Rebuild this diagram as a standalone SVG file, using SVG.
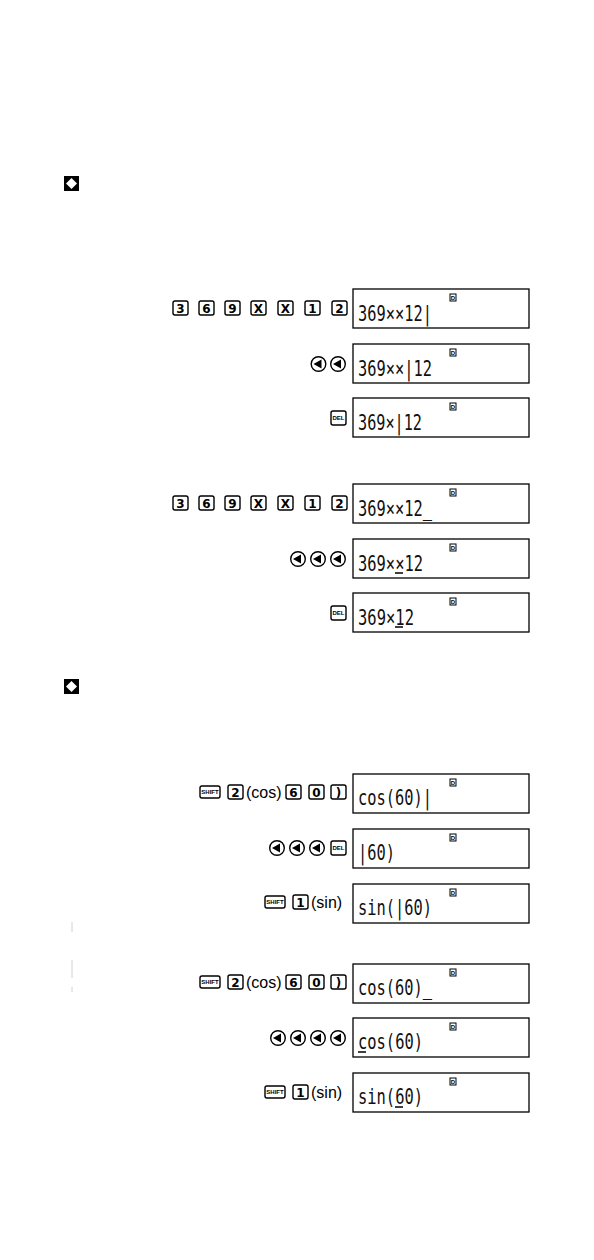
<svg xmlns="http://www.w3.org/2000/svg" width="594" height="1260" viewBox="0 0 594 1260">
<style>
.key{fill:#fff;stroke:#000;stroke-width:1.4}
.kt{font-family:"DejaVu Sans","Liberation Sans",sans-serif;font-weight:bold;font-size:12px;text-anchor:middle;fill:#000}
.kt2{font-family:"Liberation Sans",sans-serif;font-weight:bold;font-size:6px;text-anchor:middle;fill:#000}
.lab{font-family:"Liberation Sans",Arial,sans-serif;font-size:16px;fill:#000}
.box{fill:#fff;stroke:#000;stroke-width:1.3}
.lcd{font-family:"DejaVu Sans Mono","Liberation Mono",monospace;font-size:22px;fill:#111}
.ind{font-family:"Liberation Sans",sans-serif;font-weight:bold;font-size:6px;text-anchor:middle;fill:#000}
.cur{stroke:#000;stroke-width:1.5}
.arr circle{fill:#fff;stroke:#000;stroke-width:1.4}
.arr path{fill:#000}
</style>
<defs>
<g id="arrow" class="arr"><circle cx="0" cy="0" r="7.3"/><path d="M-5,0 L3,-4.5 L3,4.5 Z"/></g>
<g id="diamond"><rect x="0" y="0" width="15" height="15" fill="#000"/><path d="M7.5,2 L13,7.5 L7.5,13 L2,7.5 Z" fill="#fff"/></g>
<g id="ind"><rect x="-3" y="-4" width="6" height="7" fill="none" stroke="#000" stroke-width="1"/><text x="0" y="2" class="ind">D</text></g>
</defs>

<g id="diamond1"><use href="#diamond" x="64" y="176"/></g>
<g id="diamond2"><use href="#diamond" x="64" y="679"/></g>

<g id="marks" stroke="#d0d0d0" stroke-width="1">
<line x1="72" y1="922" x2="72" y2="932"/>
<line x1="72" y1="960" x2="72" y2="978"/>
<line x1="72" y1="987" x2="72" y2="992"/>
</g>

<!-- Section 1 -->
<g id="s1r1-keys">
<rect class="key" x="173" y="301" width="15" height="14" rx="2"/><text class="kt" x="180.5" y="312.5">3</text>
<rect class="key" x="199" y="301" width="15" height="14" rx="2"/><text class="kt" x="206.5" y="312.5">6</text>
<rect class="key" x="225" y="301" width="15" height="14" rx="2"/><text class="kt" x="232.5" y="312.5">9</text>
<rect class="key" x="251" y="301" width="15" height="14" rx="2"/><text class="kt" x="258.5" y="312.5">X</text>
<rect class="key" x="278" y="301" width="15" height="14" rx="2"/><text class="kt" x="285.5" y="312.5">X</text>
<rect class="key" x="305" y="301" width="15" height="14" rx="2"/><text class="kt" x="312.5" y="312.5">1</text>
<rect class="key" x="332" y="301" width="15" height="14" rx="2"/><text class="kt" x="339.5" y="312.5">2</text>
</g>
<g id="s1d1"><rect class="box" x="353" y="289" width="176" height="39"/><use href="#ind" x="453" y="298"/><text class="lcd" x="358" y="321" textLength="74" lengthAdjust="spacingAndGlyphs">369××12|</text></g>

<g id="s1r2-keys"><use href="#arrow" x="318.5" y="364"/><use href="#arrow" x="338" y="364"/></g>
<g id="s1d2"><rect class="box" x="353" y="344" width="176" height="39"/><use href="#ind" x="453" y="353"/><text class="lcd" x="358" y="376" textLength="74" lengthAdjust="spacingAndGlyphs">369××|12</text></g>

<g id="s1r3-keys"><rect class="key" x="331" y="411" width="15" height="14" rx="2"/><text class="kt2" x="338.5" y="420">DEL</text></g>
<g id="s1d3"><rect class="box" x="353" y="398" width="176" height="39"/><use href="#ind" x="453" y="407"/><text class="lcd" x="358" y="430" textLength="64" lengthAdjust="spacingAndGlyphs">369×|12</text></g>

<!-- Section 2 -->
<g id="s2r1-keys">
<rect class="key" x="173" y="496" width="15" height="14" rx="2"/><text class="kt" x="180.5" y="507.5">3</text>
<rect class="key" x="199" y="496" width="15" height="14" rx="2"/><text class="kt" x="206.5" y="507.5">6</text>
<rect class="key" x="225" y="496" width="15" height="14" rx="2"/><text class="kt" x="232.5" y="507.5">9</text>
<rect class="key" x="251" y="496" width="15" height="14" rx="2"/><text class="kt" x="258.5" y="507.5">X</text>
<rect class="key" x="278" y="496" width="15" height="14" rx="2"/><text class="kt" x="285.5" y="507.5">X</text>
<rect class="key" x="305" y="496" width="15" height="14" rx="2"/><text class="kt" x="312.5" y="507.5">1</text>
<rect class="key" x="332" y="496" width="15" height="14" rx="2"/><text class="kt" x="339.5" y="507.5">2</text>
</g>
<g id="s2d1"><rect class="box" x="353" y="484" width="176" height="39"/><use href="#ind" x="453" y="493"/><text class="lcd" x="358" y="516" textLength="74" lengthAdjust="spacingAndGlyphs">369××12_</text></g>

<g id="s2r2-keys"><use href="#arrow" x="298" y="559"/><use href="#arrow" x="318" y="559"/><use href="#arrow" x="338" y="559"/></g>
<g id="s2d2"><rect class="box" x="353" y="539" width="176" height="39"/><use href="#ind" x="453" y="548"/><text class="lcd" x="358" y="571" textLength="65" lengthAdjust="spacingAndGlyphs">369××12</text><line class="cur" x1="395" y1="573" x2="403" y2="573"/></g>

<g id="s2r3-keys"><rect class="key" x="331" y="606" width="15" height="14" rx="2"/><text class="kt2" x="338.5" y="615">DEL</text></g>
<g id="s2d3"><rect class="box" x="353" y="593" width="176" height="39"/><use href="#ind" x="453" y="602"/><text class="lcd" x="358" y="625" textLength="56" lengthAdjust="spacingAndGlyphs">369×12</text><line class="cur" x1="395" y1="627" x2="403" y2="627"/></g>

<!-- Section 3 -->
<g id="s3r1-keys">
<rect class="key" x="200" y="786" width="20" height="12" rx="2"/><text class="kt2" x="210" y="794">SHIFT</text>
<rect class="key" x="228" y="785" width="15" height="14" rx="2"/><text class="kt" x="235.5" y="796.5">2</text>
<text class="lab" x="246" y="798">(cos)</text>
<rect class="key" x="286" y="785" width="15" height="14" rx="2"/><text class="kt" x="293.5" y="796.5">6</text>
<rect class="key" x="309" y="785" width="15" height="14" rx="2"/><text class="kt" x="316.5" y="796.5">0</text>
<rect class="key" x="331" y="785" width="15" height="14" rx="2"/><text class="kt" x="338.5" y="796.5">)</text>
</g>
<g id="s3d1"><rect class="box" x="353" y="774" width="176" height="39"/><use href="#ind" x="453" y="783"/><text class="lcd" x="358" y="805" textLength="74" lengthAdjust="spacingAndGlyphs">cos(60)|</text></g>

<g id="s3r2-keys"><use href="#arrow" x="277" y="848"/><use href="#arrow" x="297" y="848"/><use href="#arrow" x="317" y="848"/><rect class="key" x="331" y="841" width="15" height="14" rx="2"/><text class="kt2" x="338.5" y="850">DEL</text></g>
<g id="s3d2"><rect class="box" x="353" y="829" width="176" height="39"/><use href="#ind" x="453" y="838"/><text class="lcd" x="358" y="860" textLength="37" lengthAdjust="spacingAndGlyphs">|60)</text></g>

<g id="s3r3-keys">
<rect class="key" x="265" y="896" width="20" height="12" rx="2"/><text class="kt2" x="275" y="904">SHIFT</text>
<rect class="key" x="293" y="895" width="15" height="14" rx="2"/><text class="kt" x="300.5" y="906.5">1</text>
<text class="lab" x="311" y="908">(sin)</text>
</g>
<g id="s3d3"><rect class="box" x="353" y="884" width="176" height="39"/><use href="#ind" x="453" y="893"/><text class="lcd" x="358" y="915" textLength="74" lengthAdjust="spacingAndGlyphs">sin(|60)</text></g>

<!-- Section 4 -->
<g id="s4r1-keys">
<rect class="key" x="200" y="976" width="20" height="12" rx="2"/><text class="kt2" x="210" y="984">SHIFT</text>
<rect class="key" x="228" y="975" width="15" height="14" rx="2"/><text class="kt" x="235.5" y="986.5">2</text>
<text class="lab" x="246" y="988">(cos)</text>
<rect class="key" x="286" y="975" width="15" height="14" rx="2"/><text class="kt" x="293.5" y="986.5">6</text>
<rect class="key" x="309" y="975" width="15" height="14" rx="2"/><text class="kt" x="316.5" y="986.5">0</text>
<rect class="key" x="331" y="975" width="15" height="14" rx="2"/><text class="kt" x="338.5" y="986.5">)</text>
</g>
<g id="s4d1"><rect class="box" x="353" y="964" width="176" height="39"/><use href="#ind" x="453" y="973"/><text class="lcd" x="358" y="995" textLength="74" lengthAdjust="spacingAndGlyphs">cos(60)_</text></g>

<g id="s4r2-keys"><use href="#arrow" x="278" y="1038"/><use href="#arrow" x="298" y="1038"/><use href="#arrow" x="318" y="1038"/><use href="#arrow" x="338" y="1038"/></g>
<g id="s4d2"><rect class="box" x="353" y="1018" width="176" height="39"/><use href="#ind" x="453" y="1027"/><text class="lcd" x="358" y="1049" textLength="65" lengthAdjust="spacingAndGlyphs">cos(60)</text><line class="cur" x1="358" y1="1052" x2="366" y2="1052"/></g>

<g id="s4r3-keys">
<rect class="key" x="265" y="1086" width="20" height="12" rx="2"/><text class="kt2" x="275" y="1094">SHIFT</text>
<rect class="key" x="293" y="1085" width="15" height="14" rx="2"/><text class="kt" x="300.5" y="1096.5">1</text>
<text class="lab" x="311" y="1098">(sin)</text>
</g>
<g id="s4d3"><rect class="box" x="353" y="1073" width="176" height="39"/><use href="#ind" x="453" y="1082"/><text class="lcd" x="358" y="1104" textLength="65" lengthAdjust="spacingAndGlyphs">sin(60)</text><line class="cur" x1="395" y1="1107" x2="403" y2="1107"/></g>
</svg>
